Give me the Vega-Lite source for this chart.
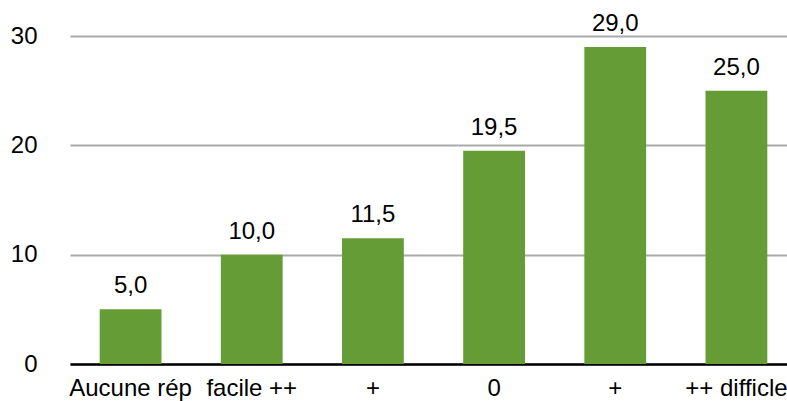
{
  "$schema": "https://vega.github.io/schema/vega-lite/v6.json",
  "autosize": "none",
  "width": 727,
  "height": 328,
  "padding": {"left": 70, "top": 36, "right": 0, "bottom": 37},
  "background": "white",
  "config": {
    "view": {"stroke": null},
    "font": "Liberation Sans",
    "locale": {"number": {"decimal": ",", "thousands": " ", "grouping": [3], "currency": ["", " €"]}}
  },
  "data": {
    "values": [
      {"cat": "Aucune rép", "value": 5.0},
      {"cat": "facile ++", "value": 10.0},
      {"cat": "+", "value": 11.5},
      {"cat": "0", "value": 19.5},
      {"cat": "+ ", "value": 29.0},
      {"cat": "++ difficle", "value": 25.0}
    ]
  },
  "encoding": {
    "x": {
      "field": "cat",
      "type": "nominal",
      "sort": null,
      "scale": {"paddingInner": 0.49, "paddingOuter": 0.245},
      "axis": {
        "title": null,
        "labelAngle": 0,
        "ticks": false,
        "labelPadding": 12,
        "labelFontSize": 24,
        "labelColor": "black",
        "domainColor": "black",
        "domainWidth": 2.5,
        "labelFont": "Liberation Sans",
        "labelOverlap": false,
        "labelBound": false
      }
    },
    "y": {
      "field": "value",
      "type": "quantitative",
      "scale": {"domain": [0, 30], "nice": false},
      "axis": {
        "title": null,
        "values": [0, 10, 20, 30],
        "grid": true,
        "gridColor": "#aaaaaa",
        "gridWidth": 2,
        "domain": false,
        "ticks": false,
        "labelPadding": 33,
        "labelFontSize": 24,
        "labelColor": "black",
        "labelFont": "Liberation Sans"
      }
    }
  },
  "layer": [
    {"mark": {"type": "bar", "color": "#669c35"}},
    {
      "mark": {"type": "text", "baseline": "alphabetic", "dy": -16, "fontSize": 24, "color": "black"},
      "encoding": {"text": {"field": "value", "type": "quantitative", "format": ".1f"}}
    }
  ]
}
